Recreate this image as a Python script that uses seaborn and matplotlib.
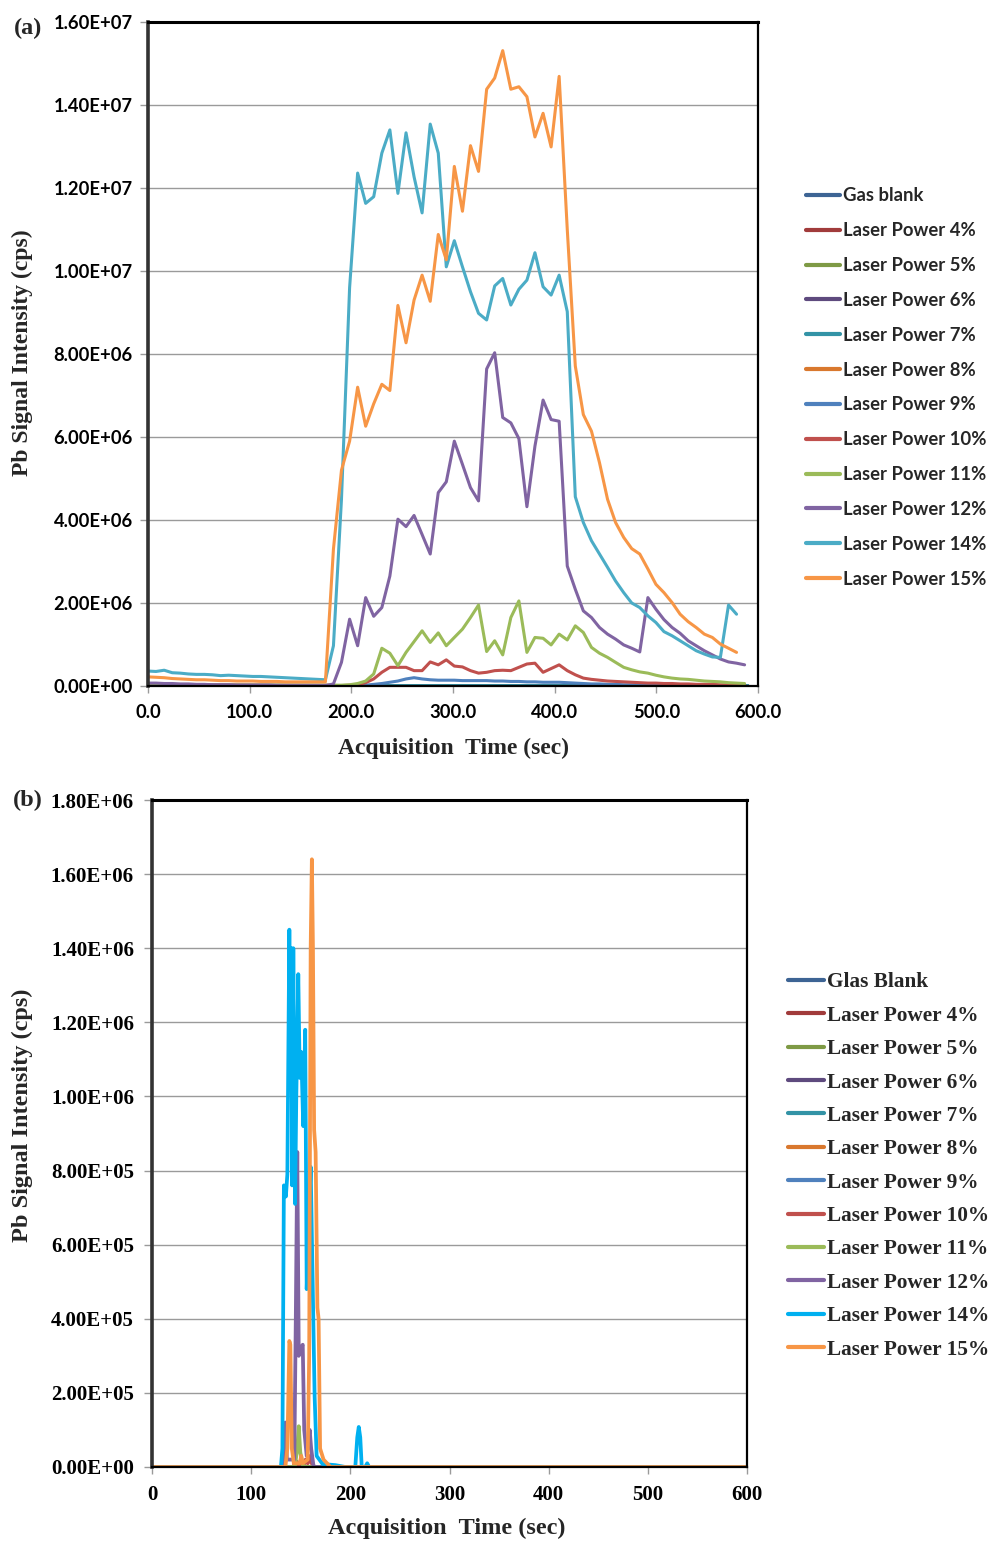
import numpy as np
import pandas as pd
import matplotlib
matplotlib.use("Agg")
import matplotlib.pyplot as plt
import seaborn as sns
from matplotlib.ticker import FuncFormatter, MultipleLocator

# ---------------- Panel (a) data (values in 1e6 cps) ----------------
names_a = ["Gas blank", "Laser Power 4%", "Laser Power 5%", "Laser Power 6%",
           "Laser Power 7%", "Laser Power 8%", "Laser Power 9%", "Laser Power 10%",
           "Laser Power 11%", "Laser Power 12%", "Laser Power 14%", "Laser Power 15%"]
colors_a = ["#3D6494", "#A13B3B", "#7E9A45", "#5E4A7E", "#3393A6", "#D9782E",
            "#4F81BD", "#C0504D", "#9BBB59", "#8064A2", "#4BACC6", "#F79646"]

time_a = [0.0, 7.9, 15.9, 23.8, 31.7, 39.7, 47.6, 55.5, 63.4, 71.4, 79.3, 87.2, 95.2,
          103.1, 111.0, 119.0, 126.9, 134.8, 142.7, 150.7, 158.6, 166.5, 174.5, 182.4,
          190.3, 198.3, 206.2, 214.1, 222.0, 230.0, 237.9, 245.8, 253.8, 261.7, 269.6,
          277.6, 285.5, 293.4, 301.3, 309.3, 317.2, 325.1, 333.1, 341.0, 348.9, 356.9,
          364.8, 372.7, 380.6, 388.6, 396.5, 404.4, 412.4, 420.3, 428.2, 436.2, 444.1,
          452.0, 459.9, 467.9, 475.8, 483.7, 491.7, 499.6, 507.5, 515.5, 523.4, 531.3,
          539.2, 547.2, 555.1, 563.0, 571.0, 578.9, 586.8]

time_a_low = [0.0, 100.0, 200.0, 300.0, 400.0, 500.0, 590.0]
a_gas = [0.01, 0.01, 0.01, 0.01, 0.01, 0.01, 0.01]
a_lp4 = [0.01, 0.01, 0.01, 0.01, 0.01, 0.01, 0.01]
a_lp5 = [0.01, 0.01, 0.01, 0.01, 0.01, 0.01, 0.01]
a_lp6 = [0.03, 0.02, 0.01, 0.01, 0.01, 0.01, 0.01]
a_lp7 = [0.02, 0.01, 0.01, 0.01, 0.01, 0.01, 0.01]
a_lp8 = [0.01, 0.01, 0.01, 0.01, 0.01, 0.01, 0.01]

a_lp9 = [0.01, 0.01, 0.01, 0.01, 0.01, 0.01, 0.01, 0.01, 0.01, 0.01, 0.01, 0.01,
         0.01, 0.01, 0.01, 0.01, 0.01, 0.01, 0.01, 0.01, 0.01, 0.01, 0.01,
         0.01, 0.01, 0.01, 0.02, 0.02, 0.04, 0.06, 0.09,
         0.12, 0.17, 0.20, 0.17, 0.15, 0.14, 0.14, 0.14, 0.13, 0.13,
         0.13, 0.13, 0.12, 0.12, 0.11, 0.11, 0.10, 0.10, 0.09, 0.09,
         0.09, 0.08, 0.07, 0.06, 0.05, 0.05, 0.04, 0.04, 0.03, 0.03,
         0.03, 0.02, 0.02, 0.02, 0.02, 0.02, 0.01, 0.01, 0.01, 0.01,
         0.01, 0.01, 0.01, 0.01]
a_lp10 = [0.02, 0.02, 0.02, 0.02, 0.02, 0.02, 0.02, 0.02, 0.02, 0.02, 0.02, 0.02,
          0.02, 0.02, 0.02, 0.02, 0.02, 0.02, 0.02, 0.02, 0.02, 0.02, 0.02,
          0.01, 0.01, 0.02, 0.03, 0.08, 0.17, 0.33, 0.45,
          0.45, 0.45, 0.37, 0.37, 0.58, 0.51, 0.63, 0.48, 0.46, 0.37,
          0.31, 0.33, 0.37, 0.38, 0.37, 0.45, 0.53, 0.55, 0.33, 0.42,
          0.51, 0.37, 0.27, 0.19, 0.16, 0.14, 0.12, 0.11, 0.10, 0.09,
          0.08, 0.07, 0.07, 0.06, 0.06, 0.05, 0.05, 0.04, 0.04, 0.04,
          0.03, 0.03, 0.03, 0.03]
a_lp11 = [0.03, 0.03, 0.03, 0.03, 0.03, 0.03, 0.03, 0.02, 0.02, 0.02, 0.02, 0.02,
          0.02, 0.02, 0.02, 0.02, 0.02, 0.02, 0.02, 0.02, 0.02, 0.02, 0.02,
          0.02, 0.02, 0.03, 0.06, 0.12, 0.29, 0.91, 0.79,
          0.49, 0.81, 1.07, 1.33, 1.05, 1.28, 0.97, 1.17, 1.37, 1.65,
          1.95, 0.83, 1.09, 0.75, 1.65, 2.05, 0.81, 1.17, 1.15, 0.99,
          1.25, 1.11, 1.45, 1.29, 0.93, 0.79, 0.69, 0.57, 0.45, 0.39,
          0.34, 0.31, 0.26, 0.22, 0.19, 0.17, 0.16, 0.14, 0.12, 0.11,
          0.10, 0.08, 0.07, 0.06]
a_lp12 = [0.07, 0.07, 0.06, 0.06, 0.05, 0.05, 0.04, 0.04, 0.03, 0.03, 0.03, 0.02,
          0.02, 0.02, 0.02, 0.02, 0.01, 0.01, 0.01, 0.01, 0.01, 0.01, 0.01,
          0.05, 0.57, 1.61, 0.97, 2.13, 1.68, 1.89, 2.65,
          4.02, 3.84, 4.11, 3.65, 3.18, 4.66, 4.92, 5.90, 5.34, 4.78,
          4.46, 7.64, 8.03, 6.47, 6.34, 5.96, 4.32, 5.78, 6.89, 6.42,
          6.38, 2.89, 2.33, 1.81, 1.65, 1.41, 1.25, 1.13, 0.99, 0.91,
          0.82, 2.13, 1.85, 1.60, 1.41, 1.27, 1.09, 0.97, 0.85, 0.75,
          0.65, 0.58, 0.55, 0.51]
a_lp14 = [0.36, 0.35, 0.38, 0.32, 0.31, 0.29, 0.28, 0.28, 0.27, 0.25, 0.26, 0.25,
          0.24, 0.23, 0.23, 0.22, 0.21, 0.20, 0.19, 0.18, 0.17, 0.16, 0.15,
          0.97, 4.5, 9.6, 12.36, 11.63, 11.79, 12.84, 13.40,
          11.87, 13.33, 12.27, 11.40, 13.54, 12.84, 10.10, 10.73, 10.1, 9.5,
          8.98, 8.82, 9.64, 9.82, 9.18, 9.56, 9.78, 10.44, 9.62, 9.42,
          9.90, 9.02, 4.56, 3.94, 3.50, 3.18, 2.86, 2.53, 2.25, 2.00,
          1.89, 1.69, 1.53, 1.31, 1.21, 1.09, 0.97, 0.85, 0.77, 0.70,
          0.69, 1.95, 1.73]
a_lp15 = [0.22, 0.21, 0.20, 0.18, 0.17, 0.16, 0.15, 0.15, 0.14, 0.13, 0.13, 0.12,
          0.12, 0.12, 0.11, 0.11, 0.11, 0.10, 0.10, 0.10, 0.10, 0.10, 0.10,
          3.3, 5.2, 5.9, 7.2, 6.26, 6.8, 7.27, 7.12,
          9.17, 8.27, 9.3, 9.9, 9.27, 10.88, 10.27, 12.52, 11.44, 13.02,
          12.40, 14.38, 14.65, 15.31, 14.38, 14.44, 14.20, 13.23, 13.80, 12.99,
          14.69, 11.0, 7.71, 6.54, 6.14, 5.38, 4.50, 3.94, 3.58, 3.31,
          3.18, 2.82, 2.45, 2.25, 2.01, 1.73, 1.55, 1.41, 1.25, 1.17,
          1.01, 0.91, 0.81]

# ---------------- Panel (b) data (values in 1e5 cps) ----------------
names_b = ["Glas Blank", "Laser Power 4%", "Laser Power 5%", "Laser Power 6%",
           "Laser Power 7%", "Laser Power 8%", "Laser Power 9%", "Laser Power 10%",
           "Laser Power 11%", "Laser Power 12%", "Laser Power 14%", "Laser Power 15%"]
colors_b = ["#3D6494", "#A13B3B", "#7E9A45", "#5E4A7E", "#3393A6", "#D9782E",
            "#4F81BD", "#C0504D", "#9BBB59", "#8064A2", "#00B0F0", "#F79646"]

b_flat_t = [0.0, 600.0]
b_flat = [0.0, 0.0]
b_lp10_t = [0.0, 142.0, 146.0, 148.0, 153.0, 155.0, 157.0, 159.5, 161.0, 164.0, 600.0]
b_lp10 = [0.0, 0.0, 0.15, 0.05, 0.05, 0.2, 0.1, 0.3, 0.1, 0.0, 0.0]
b_lp11_t = [0.0, 144.0, 146.5, 148.0, 149.5, 152.0, 155.0, 600.0]
b_lp11 = [0.0, 0.0, 0.5, 1.1, 0.4, 0.05, 0.0, 0.0]
b_lp12_t = [0.0, 133.0, 134.5, 136.0, 143.5, 145.0, 146.5, 148.0, 150.0, 152.0,
            153.5, 156.0, 159.0, 160.5, 163.0, 600.0]
b_lp12 = [0.0, 0.0, 1.2, 0.2, 0.2, 4.0, 8.5, 3.0, 3.2, 3.3, 1.0, 0.3, 1.0, 0.5, 0.0, 0.0]
b_lp14_t = [0.0, 130.0, 131.5, 133.0, 135.0, 136.5, 138.5, 139.5, 140.5, 141.3, 142.5,
            144.3, 145.5, 147.5, 149.0, 150.5, 152.5, 154.5, 156.0, 158.0, 160.0,
            162.0, 164.0, 166.0, 172.0, 185.0, 195.0, 205.0, 207.0, 208.5, 210.0,
            211.5, 215.0, 217.0, 219.0, 600.0]
b_lp14 = [0.0, 0.0, 0.5, 7.6, 7.3, 7.9, 14.5, 11.0, 14.0, 7.6, 14.0, 7.1, 10.0, 13.3,
          10.5, 11.2, 9.2, 11.8, 4.8, 6.5, 8.1, 5.0, 1.9, 0.3, 0.08, 0.05, 0.0, 0.0,
          0.8, 1.08, 0.8, 0.0, 0.0, 0.1, 0.0, 0.0]
b_lp15_t = [0.0, 134.5, 136.5, 138.5, 139.5, 141.0, 143.0, 149.0, 150.5, 152.0, 157.0,
            158.5, 160.0, 161.2, 162.3, 163.5, 165.0, 166.8, 168.0, 169.5, 173.0,
            180.0, 600.0]
b_lp15 = [0.0, 0.0, 0.5, 3.4, 3.3, 0.5, 0.1, 0.1, 0.3, 0.1, 0.2, 3.0, 14.0, 16.4,
          14.0, 9.1, 8.5, 4.3, 4.0, 0.5, 0.2, 0.0, 0.0]

# ---------------- Build tidy frames ----------------
def tidy(parts, scale):
    rows = []
    for name, t, v in parts:
        for ti, vi in zip(t, v):
            rows.append((name, ti, vi * scale))
    return pd.DataFrame(rows, columns=["series", "time", "value"])

parts_a = [
    (names_a[0], time_a_low, a_gas), (names_a[1], time_a_low, a_lp4),
    (names_a[2], time_a_low, a_lp5), (names_a[3], time_a_low, a_lp6),
    (names_a[4], time_a_low, a_lp7), (names_a[5], time_a_low, a_lp8),
    (names_a[6], time_a, a_lp9), (names_a[7], time_a, a_lp10),
    (names_a[8], time_a, a_lp11), (names_a[9], time_a, a_lp12),
    (names_a[10], time_a, a_lp14), (names_a[11], time_a, a_lp15),
]
parts_b = [
    (names_b[0], b_flat_t, b_flat), (names_b[1], b_flat_t, b_flat),
    (names_b[2], b_flat_t, b_flat), (names_b[3], b_flat_t, b_flat),
    (names_b[4], b_flat_t, b_flat), (names_b[5], b_flat_t, b_flat),
    (names_b[6], b_flat_t, b_flat), (names_b[7], b_lp10_t, b_lp10),
    (names_b[8], b_lp11_t, b_lp11), (names_b[9], b_lp12_t, b_lp12),
    (names_b[10], b_lp14_t, b_lp14), (names_b[11], b_lp15_t, b_lp15),
]
df_a = tidy(parts_a, 1e6)
df_b = tidy(parts_b, 1e5)

# ---------------- Figure ----------------
sns.set_style("white")
plt.rcParams["font.family"] = ["DejaVu Sans"]
SANS = ["Lato", "DejaVu Sans"]
SERIF = ["Liberation Serif", "DejaVu Serif"]

fig = plt.figure(figsize=(9.88, 15.41), dpi=100)
ax_a = fig.add_axes([148 / 988, 1 - 686 / 1541, 610 / 988, 664 / 1541])
ax_b = fig.add_axes([152 / 988, 1 - 1467 / 1541, 595 / 988, 667 / 1541])

sns.lineplot(data=df_a, x="time", y="value", hue="series", hue_order=names_a,
             palette=colors_a, estimator=None, sort=False, linewidth=2.2,
             legend=False, ax=ax_a)
sns.lineplot(data=df_b, x="time", y="value", hue="series", hue_order=names_b,
             palette=colors_b, estimator=None, sort=False, linewidth=2.7,
             legend=False, ax=ax_b)

def style_axes(ax, ymax, ystep, xfmt, tick_family, tick_size, ypad):
    ax.set_xlim(0, 600)
    ax.set_ylim(0, ymax)
    ax.yaxis.set_major_locator(MultipleLocator(ystep))
    ax.xaxis.set_major_locator(MultipleLocator(100))
    ax.yaxis.set_major_formatter(FuncFormatter(lambda v, p: f"{v:.2E}"))
    ax.xaxis.set_major_formatter(FuncFormatter(xfmt))
    ax.grid(axis="y", color="#9A9A9A", linewidth=1.0)
    ax.grid(axis="x", visible=False)
    ax.set_axisbelow(True)
    ax.set_xlabel("")
    ax.set_ylabel("")
    ax.tick_params(axis="y", direction="out", length=6, width=1, color="#9A9A9A",
                   pad=ypad, left=True)
    ax.tick_params(axis="x", direction="out", length=5, width=1, color="#9A9A9A",
                   pad=8, bottom=True)
    for lab in ax.get_xticklabels() + ax.get_yticklabels():
        lab.set_family(tick_family)
        lab.set_fontweight("bold")
        lab.set_fontsize(tick_size)
        lab.set_color("black")
    ax.spines["left"].set_linewidth(2.6)
    ax.spines["left"].set_color("#333333")
    ax.spines["top"].set_linewidth(2.2)
    ax.spines["top"].set_color("black")
    ax.spines["right"].set_linewidth(1.6)
    ax.spines["right"].set_color("black")
    ax.spines["bottom"].set_linewidth(1.6)
    ax.spines["bottom"].set_color("black")

style_axes(ax_a, 1.6e7, 2e6, lambda v, p: f"{v:.1f}", SANS, 13.2, 5)
style_axes(ax_b, 1.8e6, 2e5, lambda v, p: f"{v:.0f}", SERIF, 15, 7)

# Axis labels and panel tags
fig.text(453 / 988, 1 - 748 / 1541, "Acquisition  Time (sec)", ha="center", va="center",
         family=SERIF, fontweight="bold", fontsize=17)
fig.text(22 / 988, 1 - 353 / 1541, "Pb Signal Intensity (cps)", ha="center", va="center",
         rotation=90, family=SERIF, fontweight="bold", fontsize=17)
fig.text(447 / 988, 1 - 1528 / 1541, "Acquisition  Time (sec)", ha="center", va="center",
         family=SERIF, fontweight="bold", fontsize=17.5)
fig.text(22 / 988, 1 - 1115 / 1541, "Pb Signal Intensity (cps)", ha="center", va="center",
         rotation=90, family=SERIF, fontweight="bold", fontsize=17.5)
fig.text(28 / 988, 1 - 28 / 1541, "(a)", ha="center", va="center",
         family=SERIF, fontweight="bold", fontsize=17.5)
fig.text(28 / 988, 1 - 800 / 1541, "(b)", ha="center", va="center",
         family=SERIF, fontweight="bold", fontsize=17.5)

# Legends
leg_a = fig.legend(handles=ax_a.lines[:12], labels=names_a, loc="center left",
                   bbox_to_anchor=(806 / 988, 1 - 387.5 / 1541), frameon=False,
                   borderaxespad=0, borderpad=0, handlelength=1.85, handletextpad=0.18,
                   labelspacing=0.965, prop={"family": SANS, "weight": "bold", "size": 13.3})
for h in leg_a.get_lines():
    h.set_linewidth(3)
leg_b = fig.legend(handles=ax_b.lines[:12], labels=names_b, loc="center left",
                   bbox_to_anchor=(788 / 988, 1 - 1166 / 1541), frameon=False,
                   borderaxespad=0, borderpad=0, handlelength=1.7, handletextpad=0.14,
                   labelspacing=0.63, prop={"family": SERIF, "weight": "bold", "size": 15.3})
for h in leg_b.get_lines():
    h.set_linewidth(3)

fig.savefig("out.png", dpi=100, facecolor="white")
